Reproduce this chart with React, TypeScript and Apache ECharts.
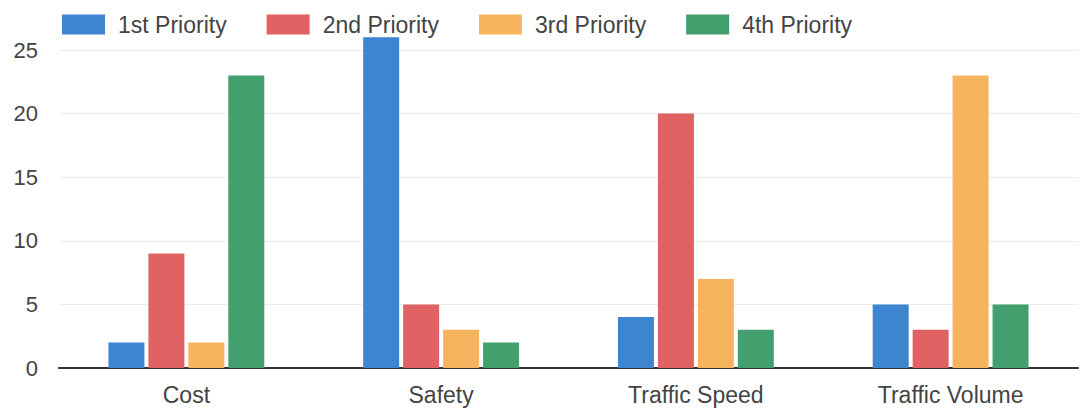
import React, { useEffect, useRef } from "react";
import * as echarts from "echarts";

const categories = ["Cost", "Safety", "Traffic Speed", "Traffic Volume"];
const seriesNames = ["1st Priority", "2nd Priority", "3rd Priority", "4th Priority"];
const first = [2, 26, 4, 5];
const second = [9, 5, 20, 3];
const third = [2, 3, 7, 23];
const fourth = [23, 2, 3, 5];
const colors = ["#3d85d0", "#e06262", "#f7b45e", "#43a06e"];

export default function App() {
  const ref = useRef<HTMLDivElement>(null);
  useEffect(() => {
    if (!ref.current) return;
    const chart = echarts.init(ref.current, null, { renderer: "svg" });
    const values = [first, second, third, fourth];
    const font = "Liberation Sans, Arial, sans-serif";
    chart.setOption({
      animation: false,
      color: colors,
      legend: {
        top: 13,
        left: 62,
        padding: 0,
        itemWidth: 43,
        itemHeight: 20,
        itemGap: 40,
        icon: "rect",
        textStyle: { fontSize: 23, color: "#444", fontFamily: font, padding: [0, 0, 0, 8] },
        data: seriesNames,
      },
      grid: { left: 59, right: 13, top: 50, bottom: 41 },
      xAxis: {
        type: "category",
        data: categories,
        axisLine: { show: true, lineStyle: { color: "#333", width: 2 } },
        axisTick: { show: false },
        axisLabel: { fontSize: 23, color: "#444", margin: 15, fontFamily: font },
      },
      yAxis: {
        type: "value",
        min: 0,
        max: 25,
        interval: 5,
        axisLine: { show: false },
        axisTick: { show: false },
        axisLabel: { fontSize: 22, color: "#444", margin: 21, fontFamily: font },
        splitLine: { lineStyle: { color: "#ececec", width: 1 } },
      },
      series: seriesNames.map((name, i) => ({
        name,
        type: "bar",
        data: values[i],
        barWidth: 36,
        barGap: "11%",
        clip: false,
      })),
    });
    return () => chart.dispose();
  }, []);
  return (
    <div
      ref={ref}
      style={{ position: "fixed", left: 0, top: 0, width: 1091, height: 409, background: "#fff" }}
    />
  );
}
